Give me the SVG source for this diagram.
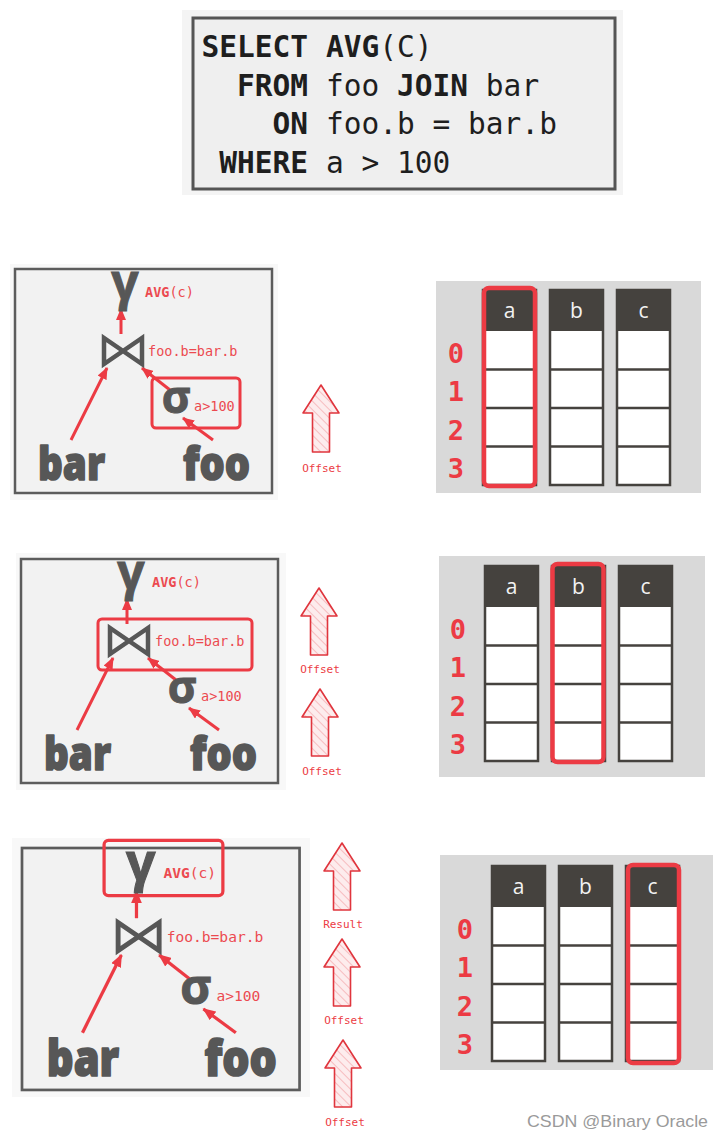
<svg xmlns="http://www.w3.org/2000/svg" xmlns:xlink="http://www.w3.org/1999/xlink" width="723" height="1140" viewBox="0 0 723 1140">
<style>
.sql{font-family:"DejaVu Sans Mono","Liberation Mono",monospace;font-size:29.5px;fill:#1e1e1e}
.kw{font-weight:bold}
.lbl{font-family:"DejaVu Sans Mono","Liberation Mono",monospace;font-size:13.5px;fill:#ec4a50}
.greek{font-family:"Open Sans","DejaVu Sans",sans-serif;font-weight:700;fill:#575757;text-anchor:middle;stroke:#575757;stroke-width:1}
.tbl{font-family:"Open Sans","Liberation Sans",sans-serif;font-weight:800;font-size:46px;fill:#575757;stroke:#575757;stroke-width:1.6;stroke-linejoin:round}
.box{fill:#f2f2f2;stroke:#5c5c5c;stroke-width:2.5}
.hl{fill:none;stroke:#ec3b44;stroke-width:3;rx:4}
.edge{stroke:#ec3b44;stroke-width:3;fill:none;marker-end:url(#ah)}
.join{fill:none;stroke:#575757;stroke-width:4.5;stroke-linejoin:miter}
.bg{fill:#d9d9d9}
.hdrtxt{font-family:"Open Sans","Liberation Sans",sans-serif;font-size:21px;fill:#f2f2f2;text-anchor:middle}
.rownum{font-family:"DejaVu Sans Mono","Liberation Mono",monospace;font-weight:bold;font-size:27px;fill:#ec3b44;text-anchor:middle}
.colhl{fill:none;stroke:#ec3b44;stroke-width:4.5}
.big{fill:url(#hatch);stroke:#e0353d;stroke-width:1.6;stroke-linejoin:round}
.cap{font-family:"DejaVu Sans Mono","Liberation Mono",monospace;font-size:11px;fill:#ec3b44;text-anchor:middle}
</style>
<defs>
<marker id="ah" markerWidth="12" markerHeight="10" refX="11" refY="5" orient="auto" markerUnits="userSpaceOnUse">
<path d="M0,0 L12,5 L0,10 z" fill="#ec3b44"/>
</marker>
<pattern id="hatch" width="6" height="6" patternUnits="userSpaceOnUse" patternTransform="rotate(-45)">
<rect width="6" height="6" fill="#fdeced"/>
<line x1="0" y1="0" x2="0" y2="6" stroke="#f6bcbf" stroke-width="2"/>
</pattern>
<path id="bigarrow" d="M0,0 L18,28 L8.5,28 L8.5,67 L-8.5,67 L-8.5,28 L-18,28 Z"/>
<g id="colshape">
<rect x="0" y="0" width="53" height="195" fill="#ffffff" stroke="#45423e" stroke-width="2.5"/>
<rect x="0" y="0" width="53" height="41" fill="#45423e"/>
<path d="M0,79.5H53M0,118H53M0,156.5H53" stroke="#45423e" stroke-width="2.5"/>
</g>
</defs>
<rect width="723" height="1140" fill="#ffffff"/>

<!-- SQL query -->
<g id="sql">
<rect x="182" y="10" width="441" height="185" fill="#f4f4f4"/>
<rect x="193" y="18" width="422" height="171" fill="#efefef" stroke="#555555" stroke-width="3"/>
<text class="sql kw" x="308" y="57" text-anchor="end">SELECT</text>
<text class="sql" x="326" y="57"><tspan class="kw">AVG</tspan>(C)</text>
<text class="sql kw" x="308" y="95.5" text-anchor="end">FROM</text>
<text class="sql" x="326" y="95.5">foo <tspan class="kw">JOIN</tspan> bar</text>
<text class="sql kw" x="308" y="134" text-anchor="end">ON</text>
<text class="sql" x="326" y="134">foo.b = bar.b</text>
<text class="sql kw" x="308" y="172.5" text-anchor="end">WHERE</text>
<text class="sql" x="326" y="172.5">a &gt; 100</text>
</g>

<!-- light slide backgrounds -->
<rect x="10" y="264" width="268" height="236" fill="#f8f8f8"/>
<rect x="16" y="553" width="270" height="237" fill="#f8f8f8"/>
<rect x="12" y="838" width="298" height="259" fill="#f8f8f8"/>

<!-- Plan 1 -->
<g id="plan1">
<rect class="box" x="15" y="269" width="257" height="224"/>
<g id="plan1-connectors">
<line class="edge" x1="121" y1="334" x2="121" y2="309"/>
<line class="edge" x1="71" y1="440" x2="107" y2="368"/>
<line class="edge" x1="170" y1="390" x2="142" y2="368"/>
<line class="edge" x1="213" y1="440" x2="183" y2="418"/>
</g>
<g id="plan1-gamma"><text class="greek" x="125" y="299" font-size="48">γ</text><text class="lbl" x="145" y="297"><tspan font-weight="bold">AVG</tspan>(c)</text></g>
<g id="plan1-join"><path class="join" d="M104,338 V364 L142,338 V364 Z"/><text class="lbl" x="148" y="356">foo.b=bar.b</text></g>
<g id="plan1-select"><rect class="hl" x="152" y="378" width="88" height="50"/><text class="greek" x="176" y="413" font-size="44">σ</text><text class="lbl" x="194" y="411">a&gt;100</text></g>
<g id="plan1-bar"><text class="tbl" x="38" y="480" textLength="67" lengthAdjust="spacingAndGlyphs">bar</text></g>
<g id="plan1-foo"><text class="tbl" x="183" y="480" textLength="67" lengthAdjust="spacingAndGlyphs">foo</text></g>
</g>

<!-- Plan 2 -->
<g id="plan2" transform="translate(6,290)">
<rect class="box" x="15" y="269" width="257" height="224"/>
<g id="plan2-connectors">
<line class="edge" x1="121" y1="334" x2="121" y2="309"/>
<line class="edge" x1="71" y1="440" x2="107" y2="368"/>
<line class="edge" x1="170" y1="390" x2="142" y2="368"/>
<line class="edge" x1="213" y1="440" x2="183" y2="418"/>
</g>
<g id="plan2-gamma"><text class="greek" x="125" y="299" font-size="48">γ</text><text class="lbl" x="146" y="297"><tspan font-weight="bold">AVG</tspan>(c)</text></g>
<g id="plan2-join"><rect class="hl" x="92" y="329" width="154" height="51"/><path class="join" d="M104,338 V364 L142,338 V364 Z"/><text class="lbl" x="149" y="356">foo.b=bar.b</text></g>
<g id="plan2-select"><text class="greek" x="176" y="413" font-size="44">σ</text><text class="lbl" x="195" y="411">a&gt;100</text></g>
<g id="plan2-bar"><text class="tbl" x="38" y="480" textLength="67" lengthAdjust="spacingAndGlyphs">bar</text></g>
<g id="plan2-foo"><text class="tbl" x="184" y="480" textLength="67" lengthAdjust="spacingAndGlyphs">foo</text></g>
</g>

<!-- Plan 3 -->
<g id="plan3" transform="translate(5.8,557.5) scale(1.08)">
<rect class="box" x="15" y="269" width="257" height="224"/>
<g id="plan3-connectors">
<line class="edge" x1="121" y1="334" x2="121" y2="309"/>
<line class="edge" x1="71" y1="440" x2="107" y2="368"/>
<line class="edge" x1="170" y1="390" x2="142" y2="368"/>
<line class="edge" x1="213" y1="440" x2="183" y2="418"/>
</g>
<g id="plan3-gamma"><rect class="hl" x="91" y="262" width="110" height="51"/><text class="greek" x="125" y="299" font-size="48">γ</text><text class="lbl" x="146" y="297"><tspan font-weight="bold">AVG</tspan>(c)</text></g>
<g id="plan3-join"><path class="join" d="M104,338 V364 L142,338 V364 Z"/><text class="lbl" x="149" y="356">foo.b=bar.b</text></g>
<g id="plan3-select"><text class="greek" x="176" y="413" font-size="44">σ</text><text class="lbl" x="195" y="411">a&gt;100</text></g>
<g id="plan3-bar"><text class="tbl" x="38" y="480" textLength="67" lengthAdjust="spacingAndGlyphs">bar</text></g>
<g id="plan3-foo"><text class="tbl" x="184" y="480" textLength="67" lengthAdjust="spacingAndGlyphs">foo</text></g>
</g>

<!-- hatched flow arrows -->
<g id="flow1">
<use xlink:href="#bigarrow" href="#bigarrow" class="big" transform="translate(321,385)"/>
<text class="cap" x="322" y="472">Offset</text>
</g>
<g id="flow2">
<use xlink:href="#bigarrow" href="#bigarrow" class="big" transform="translate(319,588)"/>
<text class="cap" x="320" y="673">Offset</text>
<use xlink:href="#bigarrow" href="#bigarrow" class="big" transform="translate(320,689)"/>
<text class="cap" x="322" y="775">Offset</text>
</g>
<g id="flow3">
<use xlink:href="#bigarrow" href="#bigarrow" class="big" transform="translate(342,843)"/>
<text class="cap" x="343" y="928">Result</text>
<use xlink:href="#bigarrow" href="#bigarrow" class="big" transform="translate(342,939)"/>
<text class="cap" x="344" y="1024">Offset</text>
<use xlink:href="#bigarrow" href="#bigarrow" class="big" transform="translate(343,1040)"/>
<text class="cap" x="345" y="1126">Offset</text>
</g>

<!-- Column stores -->
<rect class="bg" x="436" y="281" width="265" height="212"/>
<rect class="bg" x="439" y="556" width="266" height="221"/>
<rect class="bg" x="440" y="855" width="273" height="215"/>

<g id="cols1">
<use xlink:href="#colshape" href="#colshape" x="483" y="290"/>
<use xlink:href="#colshape" href="#colshape" x="550" y="290"/>
<use xlink:href="#colshape" href="#colshape" x="617" y="290"/>
<text class="hdrtxt" x="509.5" y="318">a</text>
<text class="hdrtxt" x="576.5" y="318">b</text>
<text class="hdrtxt" x="643.5" y="318">c</text>
<text class="rownum" x="456" y="362.5">0</text>
<text class="rownum" x="456" y="401">1</text>
<text class="rownum" x="456" y="439.5">2</text>
<text class="rownum" x="456" y="478">3</text>
<rect class="colhl" x="484" y="288" width="51" height="198" rx="5"/>
</g>

<g id="cols2" transform="translate(2,276)">
<use xlink:href="#colshape" href="#colshape" x="483" y="290"/>
<use xlink:href="#colshape" href="#colshape" x="550" y="290"/>
<use xlink:href="#colshape" href="#colshape" x="617" y="290"/>
<text class="hdrtxt" x="509.5" y="318">a</text>
<text class="hdrtxt" x="576.5" y="318">b</text>
<text class="hdrtxt" x="643.5" y="318">c</text>
<text class="rownum" x="456" y="362.5">0</text>
<text class="rownum" x="456" y="401">1</text>
<text class="rownum" x="456" y="439.5">2</text>
<text class="rownum" x="456" y="478">3</text>
<rect class="colhl" x="550.5" y="288" width="51" height="198" rx="5"/>
</g>

<g id="cols3" transform="translate(9,576)">
<use xlink:href="#colshape" href="#colshape" x="483" y="290"/>
<use xlink:href="#colshape" href="#colshape" x="550" y="290"/>
<use xlink:href="#colshape" href="#colshape" x="617" y="290"/>
<text class="hdrtxt" x="509.5" y="318">a</text>
<text class="hdrtxt" x="576.5" y="318">b</text>
<text class="hdrtxt" x="643.5" y="318">c</text>
<text class="rownum" x="456" y="362.5">0</text>
<text class="rownum" x="456" y="401">1</text>
<text class="rownum" x="456" y="439.5">2</text>
<text class="rownum" x="456" y="478">3</text>
<rect class="colhl" x="619" y="289" width="51" height="198" rx="5"/>
</g>

<text x="708" y="1127" text-anchor="end" font-family="Liberation Sans, Arial, sans-serif" font-size="17" fill="#9a9a9a" textLength="181" lengthAdjust="spacingAndGlyphs">CSDN @Binary Oracle</text>
</svg>
